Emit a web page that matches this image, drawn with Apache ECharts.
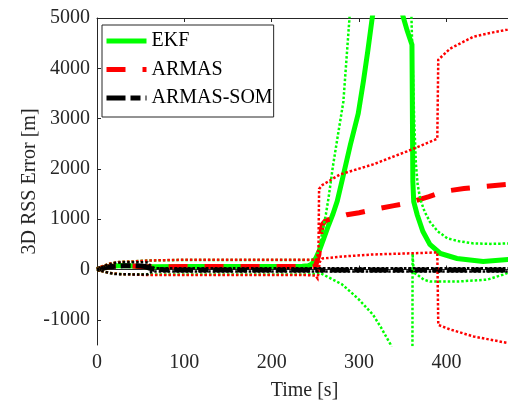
<!DOCTYPE html>
<html>
<head>
<meta charset="utf-8">
<script src="https://cdn.jsdelivr.net/npm/echarts@6/dist/echarts.min.js"></script>
<style>
  html, body { margin: 0; padding: 0; background: #fff; }
  #chart { width: 508px; height: 403px; }
</style>
</head>
<body>
<div id="chart"></div>
<script>
// Tick values for both axes
const xTicks = [0, 100, 200, 300, 400];
const yTicks = [-1000, 0, 1000, 2000, 3000, 4000, 5000];

// EKF error and its bounds, [time s, error m]
const ekf = [[0,0],[5,20],[10,45],[20,70],[30,80],[40,70],[50,60],[60,55],[100,60],[150,60],[200,62],[235,65],[242,75],[246,110],[250,210],[255,400],[260,640],[265,880],[270,1100],[275,1360],[282,1880],[290,2480],[299,3100],[305,3750],[310,4350],[315,5000],[320,5600],[330,6400],[340,6300],[345,5900],[350,5050],[355,4750],[360.5,4470],[361.5,1750],[362.5,1350],[366.5,1090],[373,755],[381,500],[393,320],[412,220],[442,160],[471,200],[475,210]];
const ekfUpper = [[0,0],[5,60],[15,120],[25,150],[40,160],[60,180],[100,190],[200,190],[245,190],[249,210],[252,270],[255,500],[258,750],[262,1100],[265,1420],[270,2050],[276,2700],[282,3340],[289,5000],[296,8000],[305,12000],[350,12000],[357,8000],[359.5,5300],[361,4300],[363,3000],[365,2100],[367,1690],[370,1400],[375,1150],[381,950],[390,760],[401,620],[415,560],[431,520],[450,510],[475,520]];
const ekfLower = [[0,0],[5,-30],[15,-70],[25,-90],[60,-100],[240,-100],[250,-90],[255,-70],[259,-100],[270,-200],[280,-290],[290,-440],[300,-600],[316,-900],[325,-1150],[336,-1490],[340,-1700],[350,-3000],[360.5,-8000],[361.2,320],[362.5,-60],[367,-110],[374,-200],[381,-240],[412,-240],[447,-200],[465,-100],[475,-30]];

// ARMAS error and its bounds
const armas = [[0,0],[5,20],[10,45],[20,70],[30,80],[40,70],[50,60],[60,55],[100,60],[200,62],[250,62],[252,80],[254,300],[255.5,650],[258,900],[262,980],[270,1010],[286,1090],[300,1130],[316,1190],[340,1270],[358,1330],[380,1450],[396,1550],[420,1610],[442,1650],[475,1700]];
const armasUpper = [[0,0],[5,60],[15,120],[25,150],[40,160],[60,180],[100,195],[200,195],[245,195],[252,195],[253.5,400],[254.2,1600],[258,1680],[278,1890],[316,2090],[355,2350],[389.5,2600],[390.6,4170],[404,4390],[431,4630],[455,4720],[470,4770],[475,4790]];
const armasLower = [[0,0],[5,-30],[15,-70],[25,-90],[60,-110],[240,-110],[250,-120],[252.5,-180],[255,150],[258,220],[282,260],[316,300],[355,320],[389.5,340],[390.6,-1100],[404,-1190],[431,-1330],[470,-1460],[475,-1480]];

// ARMAS-SOM error and its bounds
const som = [[0,0],[5,20],[10,40],[20,65],[30,75],[40,75],[50,70],[55,60],[60,30],[65,5],[80,-10],[475,-10]];
const somUpper = [[0,0],[10,80],[20,130],[30,145],[50,145],[58,140],[62,60],[66,25],[475,25]];
const somLower = [[0,0],[10,-50],[20,-90],[50,-100],[58,-95],[62,-50],[66,-40],[475,-40]];

const GREEN = '#00ff00', RED = '#ff0000', BLACK = '#000000', AXIS = '#262626';
const FONT = '"Liberation Serif", "DejaVu Serif", serif';
const dashA = [19, 17];
const dashDot = [19, 5, 10, 5];
const dots = [2.5, 2];

function line(name, data, color, width, type, z) {
  return {
    name, type: 'line', data, symbol: 'none', z,
    xAxisIndex: 0, yAxisIndex: 0, clip: true,
    itemStyle: { color },
    lineStyle: { color, width, type, cap: 'butt', join: 'miter' },
    emphasis: { disabled: true }
  };
}

const plain = v => String(v);

const chart = echarts.init(document.getElementById('chart'), null, { renderer: 'canvas' });
chart.setOption({
  animation: false,
  backgroundColor: '#fff',
  grid: { left: 97, right: -4, top: 18, bottom: 58, containLabel: false, outerBoundsMode: 'none' },
  xAxis: [{
    type: 'value', min: 0, max: 475, position: 'bottom',
    name: 'Time [s]', nameLocation: 'middle', nameGap: 36,
    nameTextStyle: { color: AXIS, fontSize: 20, fontFamily: FONT },
    axisLine: { show: true, lineStyle: { color: AXIS, width: 1 } },
    axisTick: { show: true, inside: true, length: 4, customValues: xTicks, lineStyle: { color: AXIS } },
    axisLabel: { customValues: xTicks, formatter: plain, margin: 8, color: AXIS, fontSize: 20, fontFamily: FONT },
    splitLine: { show: false }
  }, {
    type: 'value', min: 0, max: 475, position: 'top',
    axisLine: { show: true, lineStyle: { color: AXIS, width: 1 } },
    axisTick: { show: true, inside: true, length: 4, customValues: xTicks, lineStyle: { color: AXIS } },
    axisLabel: { show: false },
    splitLine: { show: false }
  }],
  yAxis: [{
    type: 'value', min: -1500, max: 5000,
    name: '3D RSS Error [m]', nameLocation: 'middle', nameGap: 57, nameRotate: 90,
    nameMoveOverlap: false,
    nameTextStyle: { color: AXIS, fontSize: 20, fontFamily: FONT },
    axisLine: { show: true, lineStyle: { color: AXIS, width: 1 } },
    axisTick: { show: true, inside: true, length: 4, customValues: yTicks, lineStyle: { color: AXIS } },
    axisLabel: { customValues: yTicks, formatter: plain, margin: 7, color: AXIS, fontSize: 20, fontFamily: FONT },
    splitLine: { show: false }
  }],
  legend: {
    orient: 'vertical', left: 102, top: 25,
    itemWidth: 40, itemHeight: 14, itemGap: 8.5,
    padding: [6, 1, 9, 2],
    borderColor: AXIS, borderWidth: 1, backgroundColor: '#fff',
    textStyle: { color: '#000', fontSize: 20, fontFamily: FONT },
    itemStyle: { opacity: 0, borderWidth: 0 },
    selectedMode: false,
    data: [
      { name: 'EKF', itemStyle: { opacity: 0 }, lineStyle: { color: GREEN, width: 5, type: 'solid' } },
      { name: 'ARMAS', itemStyle: { opacity: 0 }, lineStyle: { color: RED, width: 5, type: dashA, cap: 'butt' } },
      { name: 'ARMAS-SOM', itemStyle: { opacity: 0 }, lineStyle: { color: BLACK, width: 5, type: dashDot, cap: 'butt' } }
    ]
  },
  series: [
    line('EKF', ekf, GREEN, 5, 'solid', 2),
    line('EKF upper', ekfUpper, GREEN, 2.5, dots, 5),
    line('EKF lower', ekfLower, GREEN, 2.5, dots, 5),
    line('ARMAS', armas, RED, 5, dashA, 3),
    line('ARMAS upper', armasUpper, RED, 2.5, dots, 6),
    line('ARMAS lower', armasLower, RED, 2.5, dots, 6),
    line('ARMAS-SOM', som, BLACK, 5, dashDot, 4),
    line('ARMAS-SOM upper', somUpper, BLACK, 2.5, dots, 7),
    line('ARMAS-SOM lower', somLower, BLACK, 2.5, dots, 7)
  ]
});
</script>
</body>
</html>
